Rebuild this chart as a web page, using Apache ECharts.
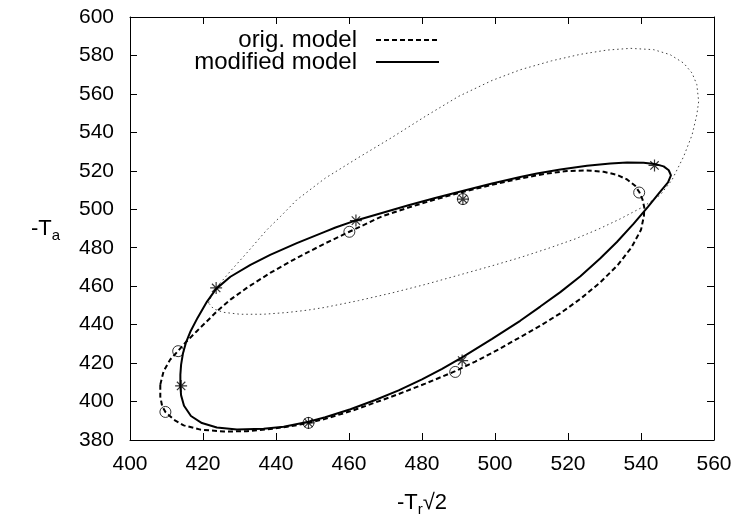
<!DOCTYPE html>
<html>
<head>
<meta charset="utf-8">
<script src="https://cdn.jsdelivr.net/npm/echarts@6/dist/echarts.min.js"></script>
<style>
html,body{margin:0;padding:0;background:#fff;}
#chart{width:742px;height:522px;}
</style>
</head>
<body>
<div id="chart"></div>
<script>
// x axis range [min, max, step], y axis range [min, max, step]
const xRange = [400, 560, 20];
const yRange = [380, 600, 20];

// legend labels
const seriesNames = ['orig. model', 'modified model'];

// thin dotted closed curve
const dottedCurve = [
  [421.5,451.3],[422.5,455.6],[424.0,460.0],[427.5,467.8],[432.0,477.3],[437.5,489.3],[441.2,496.2],
  [445.7,504.9],[453.5,516.2],[462.6,526.9],[471.8,537.4],[480.9,548.3],[490.0,558.7],[499.2,567.0],
  [507.0,572.6],[515.5,577.2],[523.4,580.6],[530.7,582.8],[537.1,583.7],[543.5,583.0],[548.0,580.4],
  [551.7,576.0],[554.0,570.8],[555.3,564.8],[555.8,556.1],[555.3,549.2],[554.0,538.7],[551.7,527.5],
  [548.5,515.3],[545.3,507.5],[540.7,501.4],[534.3,495.0],[528.5,489.8],[522.0,484.6],[514.5,479.6],
  [506.9,474.9],[499.2,470.6],[490.0,465.7],[480.9,460.9],[471.8,456.5],[462.6,452.5],[453.5,449.0],
  [448.5,447.5],[443.0,446.3],[436.6,445.4],[430.2,445.4],[425.6,446.4],[422.9,448.2],[421.5,451.3]
];

// orig. model curve (dashed)
const origCurve = [
  [408.3,408.8],[409.2,415.7],[411.0,421.8],[413.1,426.2],[415.1,430.5],[418.3,436.6],[422.0,443.5],
  [424.3,447.8],[427.5,453.0],[432.0,459.1],[438.4,466.9],[445.7,474.7],[453.5,482.3],[460.1,488.3],
  [469.0,496.3],[476.3,500.9],[483.6,505.1],[491.9,509.4],[499.2,512.7],[506.9,516.0],[514.2,518.6],
  [519.7,519.9],[525.2,520.2],[529.8,519.5],[533.4,517.9],[536.2,515.5],[538.4,512.2],[539.6,508.7],
  [540.4,505.2],[540.9,501.0],[540.8,496.5],[540.0,489.3],[537.4,480.2],[533.6,470.9],[528.8,461.9],
  [523.4,453.4],[517.9,445.9],[512.4,439.4],[506.9,433.5],[501.0,427.1],[494.6,420.8],[489.1,415.8],
  [480.9,409.3],[473.6,403.9],[467.2,399.5],[460.8,395.2],[453.5,391.0],[448.9,388.9],[443.9,387.1],
  [438.4,385.7],[432.0,384.6],[425.7,384.4],[419.3,385.4],[414.7,387.6],[412.0,390.6],[409.7,394.6],
  [408.8,397.7],[408.3,402.5],[408.3,408.8]
];

// modified model curve (solid)
const modCurve = [
  [413.8,408.1],[413.8,414.0],[414.0,419.2],[414.5,425.0],[415.3,430.5],[416.6,436.6],[418.5,443.5],
  [421.1,452.0],[423.6,458.6],[427.5,464.9],[433.0,471.1],[438.4,476.3],[445.7,482.4],[453.5,488.4],
  [456.3,490.5],[461.9,494.2],[469.0,498.1],[476.3,502.1],[483.6,505.9],[491.9,509.9],[499.2,513.4],
  [506.9,516.8],[511.5,518.6],[517.9,520.7],[525.2,522.6],[531.6,523.8],[536.2,524.3],[540.7,524.2],
  [543.7,523.6],[546.2,522.3],[547.6,520.3],[548.2,517.6],[547.4,514.0],[545.0,508.5],[541.9,501.2],
  [538.0,492.5],[533.4,483.0],[528.8,474.4],[523.4,465.2],[517.9,456.9],[512.4,449.4],[506.9,442.0],
  [499.2,432.6],[491.0,423.0],[485.5,417.0],[480.0,411.5],[473.6,405.8],[467.2,400.8],[460.4,396.0],
  [453.5,391.8],[448.9,389.5],[442.1,386.9],[436.6,385.8],[429.3,385.5],[423.8,386.5],[419.7,388.8],
  [416.7,392.5],[414.8,397.8],[414.0,403.2],[413.8,408.1]
];

// data points: circles (orig. model) and asterisks (modified model)
const origPoints = [
  [409.7,394.6],[413.2,426.2],[460.1,488.3],[491.2,505.3],[539.5,508.7],[489.1,415.4],[448.9,388.9]
];
const modPoints = [
  [414.0,408.1],[423.6,459.1],[461.9,494.1],[491.2,505.3],[543.7,522.8],[491.0,421.3],[448.9,388.9]
];

const FONT = 'Liberation Sans, Arial, Helvetica, sans-serif';
const chart = echarts.init(document.getElementById('chart'), null, {renderer: 'canvas'});

function axisCommon(extra) {
  return Object.assign({
    type: 'value',
    axisLine: {show: true, onZero: false, lineStyle: {color: '#000', width: 1}},
    axisTick: {show: true, inside: true, length: 7, lineStyle: {color: '#000', width: 1}},
    splitLine: {show: false}
  }, extra);
}

const asteriskPath = 'path://M5 0 L5 10 M0 5 L10 5 M1.5 1.5 L8.5 8.5 M1.5 8.5 L8.5 1.5';

function legendFor(name, top) {
  return {
    data: [name], orient: 'vertical', align: 'right', right: 302, top: top, padding: 0,
    itemWidth: 63, itemHeight: 14, selectedMode: false,
    itemStyle: {opacity: 0},
    textStyle: {fontFamily: FONT, fontSize: 24, color: '#000', padding: [0, 14, 0, 0]}
  };
}

const option = {
  animation: false,
  backgroundColor: '#fff',
  grid: {left: 130, right: 28, top: 17, bottom: 82, containLabel: false},
  legend: [legendFor(seriesNames[0], 28), legendFor(seriesNames[1], 50)],
  xAxis: [
    axisCommon({
      min: xRange[0], max: xRange[1], interval: xRange[2], position: 'bottom',
      axisLabel: {fontFamily: FONT, fontSize: 21, color: '#000', margin: 14},
      name: '-T{s|r}√2', nameLocation: 'middle', nameGap: 48,
      nameTextStyle: {fontFamily: FONT, fontSize: 22, color: '#000',
        rich: {s: {fontFamily: FONT, fontSize: 15, color: '#000', padding: [14, 0, 0, 0]}}}
    }),
    axisCommon({
      min: xRange[0], max: xRange[1], interval: xRange[2], position: 'top',
      axisLabel: {show: false}
    })
  ],
  yAxis: [
    axisCommon({
      min: yRange[0], max: yRange[1], interval: yRange[2], position: 'left',
      axisLabel: {fontFamily: FONT, fontSize: 21, color: '#000', margin: 16},
      name: '-T{s|a}', nameLocation: 'middle', nameRotate: 0, nameGap: 70,
      nameTextStyle: {fontFamily: FONT, fontSize: 22, color: '#000',
        rich: {s: {fontFamily: FONT, fontSize: 15, color: '#000', padding: [14, 0, 0, 0]}}}
    }),
    axisCommon({
      min: yRange[0], max: yRange[1], interval: yRange[2], position: 'right',
      axisLabel: {show: false}
    })
  ],
  series: [
    {
      type: 'line', name: 'guide', data: dottedCurve, symbol: 'none', smooth: false, silent: true,
      lineStyle: {color: '#444', width: 1, type: [1.5, 3]}
    },
    {
      type: 'line', name: seriesNames[0], data: origCurve, symbol: 'none', smooth: false, silent: true,
      lineStyle: {color: '#000', width: 2, type: [5, 3]}, itemStyle: {color: '#000'}
    },
    {
      type: 'line', name: seriesNames[1], data: modCurve, symbol: 'none', smooth: false, silent: true,
      lineStyle: {color: '#000', width: 2, type: 'solid'}, itemStyle: {color: '#000'}
    },
    {
      type: 'scatter', name: 'orig points', data: origPoints, symbol: 'circle', symbolSize: 11, silent: true,
      itemStyle: {color: 'rgba(0,0,0,0)', borderColor: '#000', borderWidth: 1}
    },
    {
      type: 'scatter', name: 'mod points', data: modPoints, symbol: asteriskPath, symbolSize: 12, silent: true,
      itemStyle: {color: 'rgba(0,0,0,0)', borderColor: '#000', borderWidth: 1.2}
    }
  ]
};
chart.setOption(option);
</script>
</body>
</html>
